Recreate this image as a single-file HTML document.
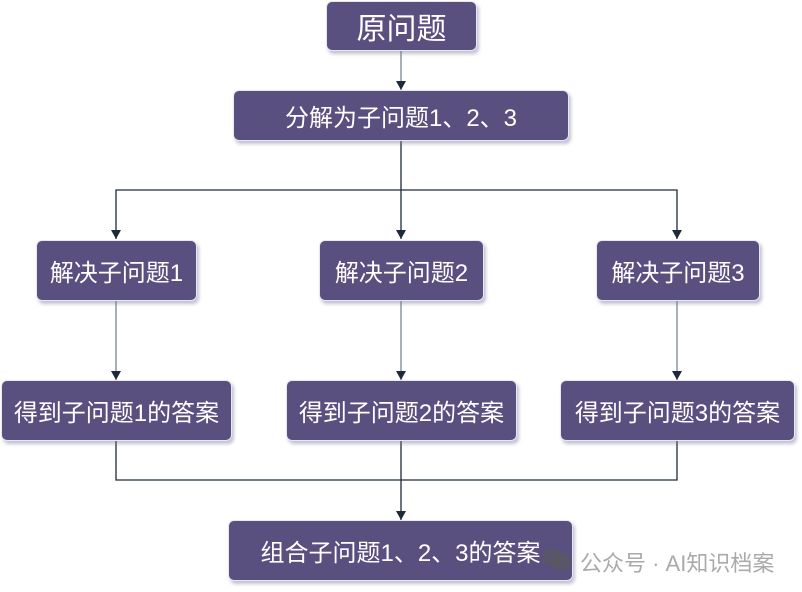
<!DOCTYPE html>
<html><head><meta charset="utf-8"><style>
body{margin:0;width:802px;height:592px;background:#fff;position:relative;overflow:hidden;font-family:"Liberation Sans","Noto Sans CJK SC",sans-serif}
.b{position:absolute;background:#5a5080;color:#fff;border-radius:6px;display:flex;align-items:center;justify-content:center;font-size:24px;box-shadow:2px 3px 3px rgba(120,120,160,0.45);border:1px solid #e8e8f0;box-sizing:border-box;white-space:nowrap}
svg{position:absolute;left:0;top:0}
</style></head><body>
<svg width="802" height="592">
<g fill="none" stroke="#1e2a3a" stroke-width="1.3">
<line x1="401" y1="50" x2="401" y2="90" stroke="#7a8590"/>
<line x1="116" y1="300" x2="116" y2="380" stroke="#7a8590"/>
<line x1="401" y1="300" x2="401" y2="380" stroke="#7a8590"/>
<line x1="677" y1="300" x2="677" y2="380" stroke="#7a8590"/>
<line x1="401" y1="140" x2="401" y2="239"/>
<polyline points="116,239 116,190 677,190 677,239"/>
<polyline points="116,440 116,480 677,480 677,440"/>
<line x1="401" y1="440" x2="401" y2="520"/>
</g>
<g fill="#1e2a3a">
<path d="M396,81 L406,81 L401,90Z"/>
<path d="M396,230 L406,230 L401,239Z"/>
<path d="M111,230 L121,230 L116,239Z"/>
<path d="M672,230 L682,230 L677,239Z"/>
<path d="M111,371 L121,371 L116,380Z"/>
<path d="M396,371 L406,371 L401,380Z"/>
<path d="M672,371 L682,371 L677,380Z"/>
<path d="M396,511 L406,511 L401,520Z"/>
</g>
</svg>
<div class="b" style="left:326px;top:1px;width:151px;height:50px;font-size:30px">原问题</div>
<div class="b" style="left:233px;top:90px;width:336px;height:51px">分解为子问题1、2、3</div>
<div class="b" style="left:36px;top:240px;width:161px;height:61px">解决子问题1</div>
<div class="b" style="left:319px;top:240px;width:165px;height:61px">解决子问题2</div>
<div class="b" style="left:596px;top:240px;width:164px;height:61px">解决子问题3</div>
<div class="b" style="left:1px;top:380px;width:231px;height:61px">得到子问题1的答案</div>
<div class="b" style="left:286px;top:380px;width:231px;height:61px">得到子问题2的答案</div>
<div class="b" style="left:560px;top:380px;width:235px;height:61px">得到子问题3的答案</div>
<div class="b" style="left:228px;top:520px;width:345px;height:61px">组合子问题1、2、3的答案</div>
<div style="position:absolute;left:541px;top:548px;width:22px;height:18px;border-radius:50%;background:rgba(90,90,90,0.55)"></div>
<div style="position:absolute;left:552px;top:554px;width:20px;height:17px;border-radius:50%;background:rgba(90,90,90,0.55)"></div>
<div style="position:absolute;left:580px;top:546px;font-size:22px;color:#aaa;white-space:nowrap">公众号 · AI知识档案</div>
</body></html>
